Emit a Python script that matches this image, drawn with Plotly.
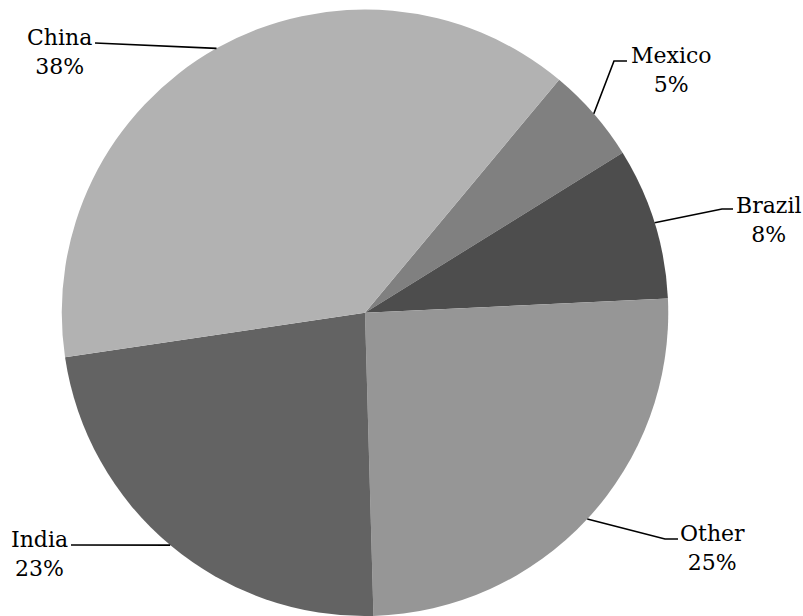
import math
import plotly.graph_objects as go

# ---- data (clockwise from the Mexico slice) ----
countries = ["Mexico", "Brazil", "Other", "India", "China"]
shares = [5.1, 8.1, 25.3, 23.1, 38.4]
pct_labels = ["5%", "8%", "25%", "23%", "38%"]
slice_colors = ["#808080", "#4d4d4d", "#969696", "#636363", "#b2b2b2"]

# ---- layout constants (pixels) ----
W, H = 803, 616
CX, R = 365.0, 303.25
CY = H - R
ROTATION = 39.8
FONT = "DejaVu Serif"
FONT_SIZE = 22

# label text-block centres and leader-line start/elbow points (pixels)
label_pos = {
    "Mexico": (671, 69.5),
    "Brazil": (768, 220),
    "Other": (712, 548),
    "India": (39, 554),
    "China": (59, 52),
}
leader_pts = {
    "Mexico": [(627, 61), (614, 61)],
    "Brazil": [(733, 209), (722, 209)],
    "Other": [(678, 539), (665, 539)],
    "India": [(71, 545)],
    "China": [(95, 43)],
}


def px(x):
    return x / W


def py(y):
    return 1 - y / H


fig = go.Figure(
    go.Pie(
        labels=countries,
        values=shares,
        sort=False,
        direction="clockwise",
        rotation=ROTATION,
        marker=dict(colors=slice_colors, line=dict(width=0)),
        textinfo="none",
        hoverinfo="label+percent",
        showlegend=False,
        domain=dict(x=[px(CX - R), px(CX + R)], y=[0, py(CY - R)]),
    )
)

total = sum(shares)
cum = 0.0
annotations = []
shapes = []
for name, val, pct in zip(countries, shares, pct_labels):
    mid = math.radians(ROTATION + (cum + val / 2) / total * 360)
    cum += val
    ex = CX + R * math.sin(mid)
    ey = CY - R * math.cos(mid)
    pts = leader_pts[name] + [(ex, ey)]
    path = "M " + " L ".join(f"{px(a):.5f},{py(b):.5f}" for a, b in pts)
    shapes.append(
        dict(type="path", xref="paper", yref="paper", path=path,
             line=dict(color="black", width=1.6))
    )
    lx, ly = label_pos[name]
    annotations.append(
        dict(x=px(lx), y=py(ly), xref="paper", yref="paper",
             text=f"{name}<br>{pct}", showarrow=False,
             xanchor="center", yanchor="middle", align="center",
             font=dict(family=FONT, size=FONT_SIZE, color="black"))
    )

fig.update_layout(
    width=W, height=H,
    margin=dict(l=0, r=0, t=0, b=0),
    paper_bgcolor="white", plot_bgcolor="white",
    font=dict(family=FONT, size=FONT_SIZE, color="black"),
    shapes=shapes, annotations=annotations,
)

fig.write_html("out.html")
